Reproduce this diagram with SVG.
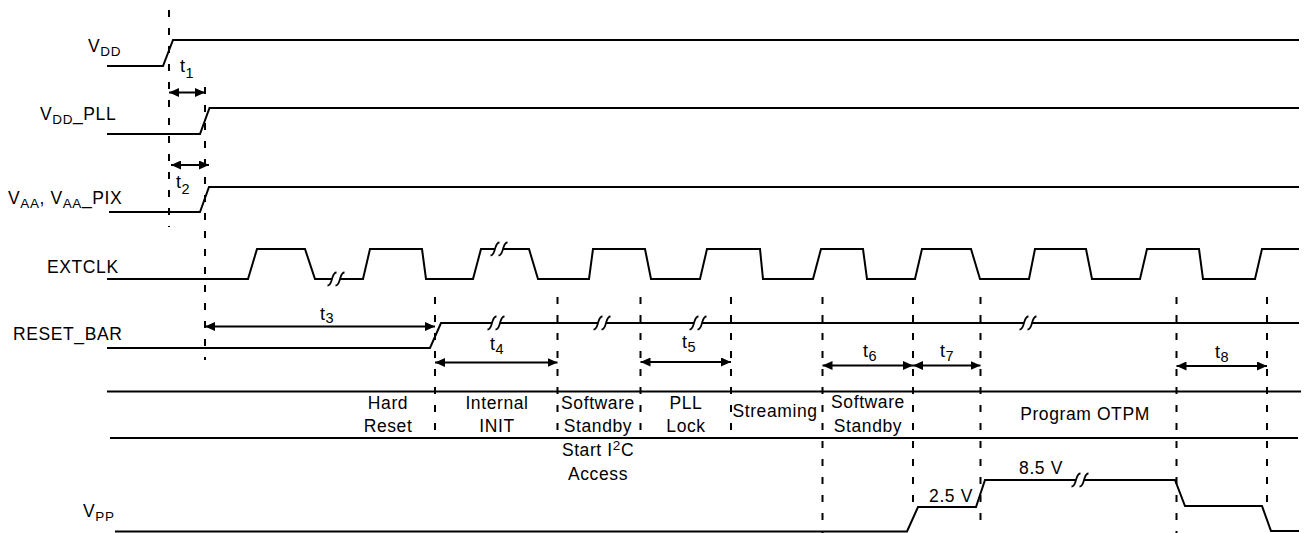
<svg xmlns="http://www.w3.org/2000/svg" width="1310" height="533" viewBox="0 0 1310 533">
<style>
  text { font-family: "Liberation Sans", Arial, sans-serif; font-size: 17.5px; letter-spacing: 0.6px; fill: #000; }
  .sub { font-size: 13.5px; }
  .sub2 { font-size: 14.5px; }
  .tl { font-size: 18px; }
  .mid { text-anchor: middle; }
  .sig { fill: none; stroke: #000; stroke-width: 2; stroke-linejoin: miter; }
  .dash { stroke: #000; stroke-width: 2; stroke-dasharray: 7 11; }
  .arr { stroke: #000; stroke-width: 2; marker-start: url(#ah); marker-end: url(#ah); }
  .row { stroke: #000; stroke-width: 2; }
</style>
<defs>
  <marker id="ah" markerUnits="userSpaceOnUse" markerWidth="10" markerHeight="9" refX="10" refY="4.5" orient="auto-start-reverse">
    <path d="M0,0 L10,4.5 L0,9 Z" fill="#000"/>
  </marker>
  <g id="brk">
    <rect x="-4" y="-3" width="8" height="6" fill="#fff"/>
    <path d="M-8.5,6.5 C-5.5,6.5 -5,3 -4,0 C-3,-3 -2.5,-6.5 0.5,-6.5 M-0.5,6.5 C2.5,6.5 3,3 4,0 C5,-3 5.5,-6.5 8.5,-6.5" fill="none" stroke="#000" stroke-width="1.8"/>
  </g>
</defs>
<rect width="1310" height="533" fill="#fff"/>

<g id="labels">
  <text x="88" y="52">V<tspan class="sub" dy="4">DD</tspan></text>
  <text x="40" y="120">V<tspan class="sub" dy="4">DD</tspan><tspan dy="-4">_PLL</tspan></text>
  <text x="8" y="204">V<tspan class="sub" dy="4">AA</tspan><tspan dy="-4">, V</tspan><tspan class="sub" dy="4">AA</tspan><tspan dy="-4">_PIX</tspan></text>
  <text x="47" y="273">EXTCLK</text>
  <text x="13" y="340">RESET_BAR</text>
  <text x="83" y="517">V<tspan class="sub" dy="4">PP</tspan></text>
</g>

<g id="dashed-lines">
  <line class="dash" x1="169" y1="10" x2="169" y2="227"/>
  <line class="dash" x1="205" y1="87" x2="205" y2="360"/>
  <line class="dash" x1="435" y1="297" x2="435" y2="437"/>
  <line class="dash" x1="557.5" y1="297" x2="557.5" y2="437"/>
  <line class="dash" x1="640.5" y1="297" x2="640.5" y2="437"/>
  <line class="dash" x1="731" y1="297" x2="731" y2="437"/>
  <line class="dash" x1="822.5" y1="297" x2="822.5" y2="533"/>
  <line class="dash" x1="913" y1="297" x2="913" y2="505"/>
  <line class="dash" x1="980.5" y1="297" x2="980.5" y2="522"/>
  <line class="dash" x1="1176.5" y1="297" x2="1176.5" y2="533"/>
  <line class="dash" x1="1267" y1="297" x2="1267" y2="512"/>
</g>

<g id="state-row">
  <line class="row" x1="107" y1="391.5" x2="1301" y2="391.5"/>
  <line class="row" x1="110" y1="438" x2="1298" y2="438"/>
  <text class="mid" x="388" y="409">Hard</text>
  <text class="mid" x="388" y="431.5">Reset</text>
  <text class="mid" x="497" y="409">Internal</text>
  <text class="mid" x="497" y="431.5">INIT</text>
  <text class="mid" x="598" y="408.5">Software</text>
  <text class="mid" x="598" y="431.5">Standby</text>
  <text class="mid" x="686" y="409">PLL</text>
  <text class="mid" x="686" y="431.5">Lock</text>
  <text class="mid" x="775" y="417">Streaming</text>
  <text class="mid" x="868" y="408">Software</text>
  <text class="mid" x="868" y="431.5">Standby</text>
  <text class="mid" x="1085" y="420">Program OTPM</text>
  <text class="mid" x="598" y="456">Start I<tspan class="sub" dy="-6">2</tspan><tspan dy="6">C</tspan></text>
  <text class="mid" x="598" y="479.5">Access</text>
</g>

<g id="signals">
  <path id="vdd" class="sig" d="M107,66 H163 L173,40 H1299"/>
  <path id="vdd-pll" class="sig" d="M107,134 H200 L209.5,108 H1299"/>
  <path id="vaa" class="sig" d="M109,212 H200 L209,187 H1299"/>
  <path id="extclk" class="sig" d="M107,279 H248 L257,249 H305 L315,279 H363 L370,249 H422 L426,279 H473 L481,249 H529 L538,279 H589 L593,249 H645 L651,279 H700 L707,249 H760 L763,279 H813 L821,249 H863 L867,279 H915 L922,249 H971 L980,279 H1029 L1035,249 H1086 L1092,279 H1140 L1147,249 H1199 L1203,279 H1255 L1262,249 H1299"/>
  <path id="reset-bar" class="sig" d="M107,348 H430 L441,323 H1299"/>
  <path id="vpp" class="sig" d="M115,531.5 H907 L918,507 H976 L985,480 H1175 L1185,506 H1262 L1271,531 H1299"/>
  <use href="#brk" transform="translate(336,279)"/>
  <use href="#brk" transform="translate(499,249)"/>
  <use href="#brk" transform="translate(496,323)"/>
  <use href="#brk" transform="translate(602,323)"/>
  <use href="#brk" transform="translate(698,323)"/>
  <use href="#brk" transform="translate(1028,323)"/>
  <use href="#brk" transform="translate(1080,480)"/>
  <text class="mid" x="951" y="502">2.5 V</text>
  <text class="mid" x="1041" y="474">8.5 V</text>
</g>

<g id="timing-arrows">
  <line class="arr" x1="169" y1="92.5" x2="205" y2="92.5"/>
  <line class="arr" x1="171" y1="165" x2="209" y2="165"/>
  <line class="arr" x1="205" y1="326.5" x2="435" y2="326.5"/>
  <line class="arr" x1="435" y1="362.5" x2="557.5" y2="362.5"/>
  <line class="arr" x1="640.5" y1="362" x2="731" y2="362"/>
  <line class="arr" x1="822.5" y1="365.5" x2="913" y2="365.5"/>
  <line class="arr" x1="913" y1="365.5" x2="980.5" y2="365.5"/>
  <line class="arr" x1="1176.5" y1="366" x2="1267" y2="366"/>
  <text class="tl" x="180" y="72">t<tspan class="sub2" dy="6">1</tspan></text>
  <text class="tl" x="176" y="188">t<tspan class="sub2" dy="6">2</tspan></text>
  <text class="tl" x="320" y="320">t<tspan class="sub2" dy="3">3</tspan></text>
  <text class="tl" x="490" y="350">t<tspan class="sub2" dy="4">4</tspan></text>
  <text class="tl" x="682" y="348">t<tspan class="sub2" dy="4">5</tspan></text>
  <text class="tl" x="863" y="357">t<tspan class="sub2" dy="4">6</tspan></text>
  <text class="tl" x="940" y="357">t<tspan class="sub2" dy="4">7</tspan></text>
  <text class="tl" x="1215" y="358">t<tspan class="sub2" dy="4">8</tspan></text>
</g>
</svg>
